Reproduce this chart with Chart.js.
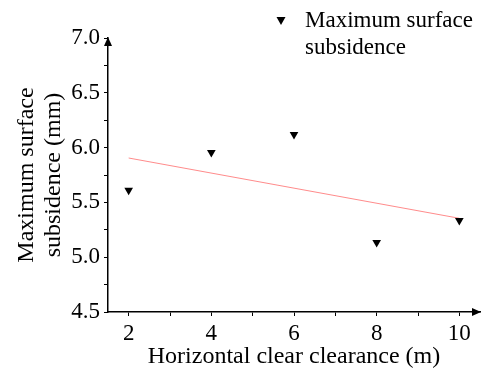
<!DOCTYPE html>
<html>
<head>
<meta charset="utf-8">
<script src="https://cdn.jsdelivr.net/npm/chart.js@4.4.0/dist/chart.umd.min.js"></script>
<style>
  html, body { margin: 0; padding: 0; background: #fff; }
  #wrap { width: 486px; height: 370px; position: relative; }
  .probe { font-family: "Liberation Serif"; position: absolute; left: -1000px; }
</style>
</head>
<body>
<span class="probe">Font probe 0123</span>
<div id="wrap"><canvas id="c" width="486" height="370"></canvas></div>
<script>
// ---- data ----
const clearance = [2, 4, 6, 8, 10];
const subsidence = [5.61, 5.955, 6.12, 5.135, 5.335];
const fitX = [2, 10];
const fitY = [5.905, 5.355];
const xMajorTicks = [2, 4, 6, 8, 10];
const xAllTicks = [2, 3, 4, 5, 6, 7, 8, 9, 10];
const yAllTicks = [4.5, 4.75, 5.0, 5.25, 5.5, 5.75, 6.0, 6.25, 6.5, 6.75, 7.0];
const seriesLabel = ['Maximum surface', 'subsidence'];
const xTitle = 'Horizontal clear clearance (m)';
const yTitle = ['Maximum surface', 'subsidence (mm)'];

const FONT = '"Liberation Serif", serif';

const arrowPlugin = {
  id: 'arrows',
  afterDraw(chart) {
    const ctx = chart.ctx;
    const a = chart.chartArea;
    ctx.save();
    ctx.fillStyle = '#000';
    ctx.beginPath();
    ctx.moveTo(a.right + 1, a.bottom);
    ctx.lineTo(a.right - 8, a.bottom - 4);
    ctx.lineTo(a.right - 8, a.bottom + 4);
    ctx.closePath();
    ctx.fill();
    ctx.beginPath();
    ctx.moveTo(a.left, a.top - 1);
    ctx.lineTo(a.left - 4, a.top + 8);
    ctx.lineTo(a.left + 4, a.top + 8);
    ctx.closePath();
    ctx.fill();
    ctx.restore();
  }
};

const legendPlugin = {
  id: 'customLegend',
  afterDraw(chart) {
    const ctx = chart.ctx;
    ctx.save();
    const mx = 281, my = 20;
    ctx.fillStyle = '#000';
    ctx.beginPath();
    ctx.moveTo(mx - 4.5, my - 3);
    ctx.lineTo(mx + 4.5, my - 3);
    ctx.lineTo(mx, my + 5);
    ctx.closePath();
    ctx.fill();
    ctx.font = '23px ' + FONT;
    ctx.textBaseline = 'middle';
    ctx.textAlign = 'left';
    seriesLabel.forEach((t, i) => ctx.fillText(t, 305, 21 + i * 27));
    ctx.restore();
  }
};

function draw() {
  Chart.defaults.font.family = FONT;
  new Chart(document.getElementById('c'), {
    type: 'scatter',
    data: {
      datasets: [
        {
          label: seriesLabel.join(' '),
          data: clearance.map((x, i) => ({ x, y: subsidence[i] })),
          pointStyle: 'triangle',
          rotation: 180,
          pointRadius: 5,
          backgroundColor: '#000',
          borderColor: '#000',
          borderWidth: 0,
          showLine: false
        },
        {
          label: 'fit',
          data: fitX.map((x, i) => ({ x, y: fitY[i] })),
          showLine: true,
          pointRadius: 0,
          borderColor: 'rgba(255,110,110,0.8)',
          borderWidth: 1,
          fill: false
        }
      ]
    },
    options: {
      responsive: false,
      animation: false,
      devicePixelRatio: 1,
      layout: { padding: { top: 38, right: 6, left: 0, bottom: 0 } },
      plugins: {
        legend: { display: false },
        tooltip: { enabled: false }
      },
      scales: {
        x: {
          type: 'linear',
          min: 1.5,
          max: 10.5,
          afterBuildTicks: (s) => { s.ticks = xAllTicks.map(v => ({ value: v })); },
          afterFit: (s) => { s.height = 58; },
          ticks: {
            autoSkip: false,
            maxRotation: 0,
            padding: 4,
            color: '#000',
            font: { family: FONT, size: 23 },
            callback: (v) => xMajorTicks.includes(v) ? String(v) : ''
          },
          grid: {
            drawOnChartArea: false,
            drawTicks: true,
            tickLength: 4,
            tickColor: '#000',
            tickWidth: 1
          },
          border: { display: true, color: '#000', width: 1.5 },
          title: {
            display: true,
            text: xTitle,
            color: '#000',
            font: { family: FONT, size: 24, lineHeight: 1.1 },
            padding: { top: 0, bottom: 0 }
          }
        },
        y: {
          type: 'linear',
          min: 4.5,
          max: 7.0,
          afterBuildTicks: (s) => { s.ticks = yAllTicks.map(v => ({ value: v })); },
          afterFit: (s) => { s.width = 108; },
          ticks: {
            autoSkip: false,
            padding: 4,
            color: '#000',
            font: { family: FONT, size: 23 },
            callback: (v) => (Math.abs(v * 2 - Math.round(v * 2)) < 1e-6) ? v.toFixed(1) : ''
          },
          grid: {
            drawOnChartArea: false,
            drawTicks: true,
            tickLength: 4,
            tickColor: '#000',
            tickWidth: 1
          },
          border: { display: true, color: '#000', width: 1.5 },
          title: {
            display: true,
            text: yTitle,
            color: '#000',
            font: { family: FONT, size: 24, lineHeight: 1.125 },
            padding: { top: 13, bottom: 0 }
          }
        }
      }
    },
    plugins: [arrowPlugin, legendPlugin]
  });
}

if (document.fonts && document.fonts.load) {
  document.fonts.load('22px "Liberation Serif"').then(draw, draw);
} else {
  draw();
}
</script>
</body>
</html>
